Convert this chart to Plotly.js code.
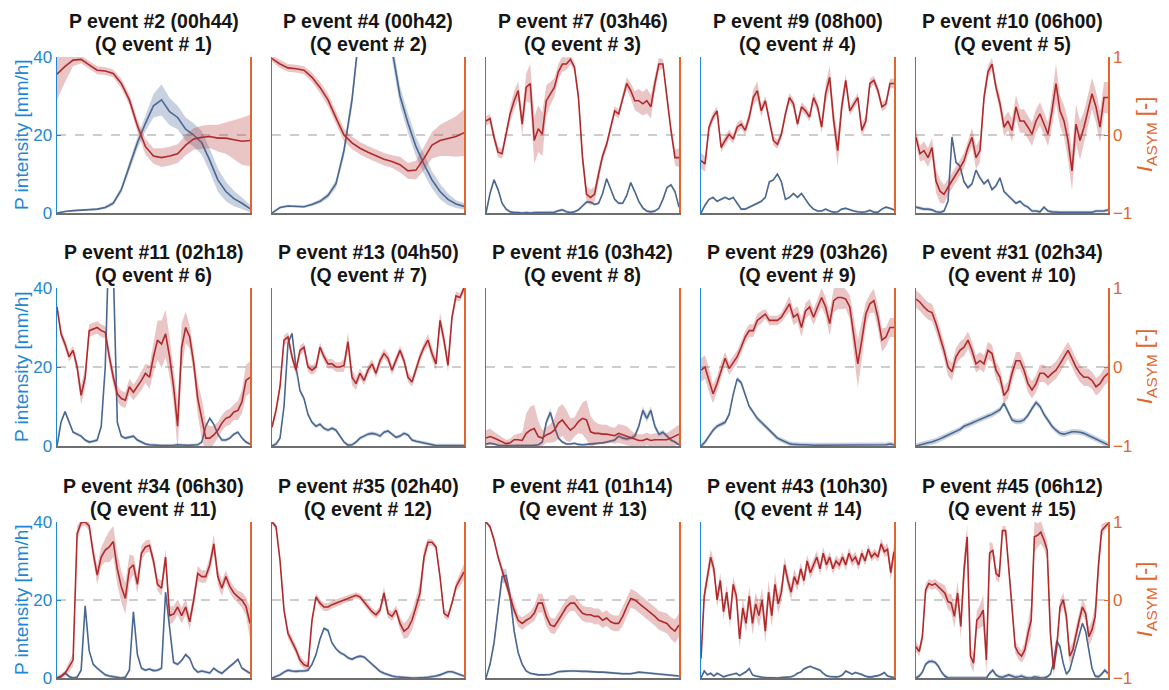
<!DOCTYPE html>
<html>
<head>
<meta charset="utf-8">
<script src="https://cdn.plot.ly/plotly-3.0.1.min.js"></script>
<style>
  html, body { margin: 0; padding: 0; background: #fff; }
  #chart { width: 1169px; height: 690px; }
</style>
</head>
<body>
<div id="chart"></div>
<script>
// ---- event labels ----
const pEventLabels = ['P event #2 (00h44)', 'P event #4 (00h42)', 'P event #7 (03h46)', 'P event #9 (08h00)', 'P event #10 (06h00)',
  'P event #11 (02h18)', 'P event #13 (04h50)', 'P event #16 (03h42)', 'P event #29 (03h26)', 'P event #31 (02h34)',
  'P event #34 (06h30)', 'P event #35 (02h40)', 'P event #41 (01h14)', 'P event #43 (10h30)', 'P event #45 (06h12)'];
const qEventLabels = ['(Q event # 1)', '(Q event # 2)', '(Q event # 3)', '(Q event # 4)', '(Q event # 5)',
  '(Q event # 6)', '(Q event # 7)', '(Q event # 8)', '(Q event # 9)', '(Q event # 10)',
  '(Q event # 11)', '(Q event # 12)', '(Q event # 13)', '(Q event # 14)', '(Q event # 15)'];

// ---- P intensity [mm/h] (mean and spread) and I_ASYM [-] (mean and spread), over normalised event time ----
const rain02 = [0,0.4,0.6,0.7,0.8,1.0,1.4,2.5,6,12,18,23,27.5,29,26,24.5,21.5,20,18,13.5,8.5,5.5,3.7,2.5,1.1];
const rain02Sd = [0.2,0.2,0.2,0.2,0.2,0.3,0.4,0.6,0.8,1.2,1.5,2,3,4,3.5,3,3,3,3,3,3,2.5,2,1.5,1];
const asym02 = [0.78,0.88,0.96,0.97,0.90,0.83,0.82,0.79,0.66,0.45,0.12,-0.15,-0.27,-0.29,-0.27,-0.24,-0.13,-0.05,-0.03,-0.02,-0.04,-0.04,-0.06,-0.08,-0.07];
const asym02Sd = [0.33,0.2,0.08,0.05,0.05,0.05,0.05,0.05,0.06,0.07,0.08,0.1,0.1,0.12,0.12,0.12,0.13,0.14,0.15,0.15,0.17,0.2,0.25,0.3,0.33];

const rain04 = [0,1.4,1.8,1.7,1.6,2.2,3,4.5,7.5,16,29,48,70,75,60,42,30,23,17,12.5,8.5,5.5,3.5,2.3,1.7];
const rain04Sd = [0.2,0.3,0.3,0.3,0.3,0.4,0.5,0.7,1,1.5,2,2,2,2,2,2.5,2.5,2.5,2.5,2.5,2.2,2,1.5,1,0.8];
const asym04 = [0.98,0.91,0.86,0.85,0.83,0.74,0.61,0.45,0.22,0.0,-0.1,-0.17,-0.22,-0.27,-0.31,-0.34,-0.38,-0.46,-0.45,-0.3,-0.13,-0.07,-0.04,-0.02,0.03];
const asym04Sd = [0.04,0.05,0.05,0.05,0.05,0.06,0.07,0.08,0.08,0.08,0.08,0.08,0.08,0.08,0.08,0.08,0.1,0.1,0.12,0.15,0.17,0.2,0.23,0.26,0.3];

const rain07 = [0,5,8.5,6,2.5,1,0.3,0.1,0.1,0, 0.1,0,0.1,0.1,0.2,0.1,0.1,0.2,0.6,0.8, 0.3,0.1,0.3,0.8,1.8,2.8,2.8,2.2,2.5,5, 8.8,6,3.5,2.5,2.5,4.5,7.8,5.5,3,1.3, 0.5,0.3,0.5,1.2,3.5,6.5,7.2,5.5,1.5];
const rain07Sd = 0.35;
const asym07 = [0.18,0.21,-0.03,-0.22,-0.24,0.01,0.27,0.44,0.57,0.14, 0.61,0.66,-0.07,0.08,0.01,0.44,0.53,0.61,0.81,0.91, 0.91,0.97,0.87,0.48,-0.29,-0.76,-0.80,-0.76,-0.50,-0.27, -0.12,0.10,0.31,0.27,0.48,0.66,0.57,0.44,0.44,0.40, 0.44,0.36,0.66,0.91,0.91,0.48,0.06,-0.29,-0.29];
const asym07Sd = [0.06,0.06,0.07,0.07,0.06,0.06,0.1,0.12,0.12,0.15, 0.18,0.25,0.3,0.3,0.28,0.2,0.15,0.12,0.1,0.1, 0.08,0.06,0.06,0.08,0.1,0.1,0.1,0.1,0.08,0.06, 0.06,0.06,0.06,0.06,0.06,0.08,0.1,0.12,0.15,0.15, 0.16,0.15,0.1,0.08,0.06,0.06,0.07,0.1,0.12];

const rain09 = [0,2,3.5,4,3,3.5,4,3.5,4,2.5, 1,1,1.5,2,2.5,3,4,8,8.5,10, 8,3.5,4,5,4,5,3.5,2,1,0.5, 0.5,1,0.5,0.2,0.3,1,1.2,0.8,0.5,0.3, 0.2,0.3,0.7,0.2,0.2,1,1.5,1.2,0.8];
const rain09Sd = 0.3;
const asym09 = [-0.33,-0.37,0.10,0.23,0.31,-0.16,-0.07,0.01,-0.05,0.10, 0.14,0.06,0.23,0.48,0.57,0.31,0.44,0.18,-0.07,-0.12, 0.01,0.27,0.48,0.40,0.14,0.36,0.31,0.23,0.48,0.36, 0.10,0.53,0.74,0.18,-0.20,0.36,0.70,0.31,0.40,0.48, 0.06,0.18,0.66,0.70,0.57,0.36,0.40,0.66,0.66];
const asym09Sd = [0.1,0.1,0.06,0.06,0.06,0.06,0.06,0.06,0.06,0.06, 0.06,0.06,0.07,0.1,0.12,0.08,0.06,0.06,0.06,0.06, 0.06,0.06,0.06,0.06,0.06,0.06,0.06,0.06,0.07,0.07, 0.08,0.12,0.15,0.15,0.2,0.12,0.08,0.06,0.06,0.06, 0.08,0.08,0.06,0.06,0.06,0.06,0.06,0.06,0.06];

const rain10 = [1.5,1.2,1,1,0.8,0.3,0.2,0.5,3,19.5, 13,12,8,6.5,7.5,11,9,7.5,8.5,6, 7,9,5.5,4.5,3.5,2.5,3,2,1.5,0.5, 0.5,0.3,1.5,0.5,0.3,0.2,0.2,0.2,0.2,0.3, 0.2,0.2,0.2,0.2,0.2,0.5,0.5,0.5,0.8];
const rain10Sd = 0.4;
const asym10 = [-0.03,-0.24,-0.20,-0.29,-0.16,-0.59,-0.72,-0.76,-0.67,-0.59, -0.50,-0.42,-0.33,-0.16,-0.03,-0.29,-0.20,0.48,0.81,0.91, 0.61,0.40,0.10,0.18,0.06,0.36,0.18,0.18,0.10,0.01, 0.18,0.27,0.14,0.01,0.31,0.66,0.31,0.18,-0.07,-0.46, 0.14,-0.07,0.10,0.31,0.53,0.36,0.10,0.48,0.48];
const asym10Sd = [0.1,0.1,0.12,0.12,0.12,0.15,0.15,0.12,0.1,0.1, 0.1,0.1,0.1,0.1,0.12,0.15,0.15,0.1,0.08,0.08, 0.08,0.1,0.12,0.12,0.15,0.15,0.15,0.15,0.15,0.15, 0.15,0.15,0.15,0.15,0.2,0.25,0.2,0.2,0.25,0.25, 0.25,0.25,0.2,0.2,0.2,0.2,0.2,0.2,0.2];

const rain11 = [0,6,8.7,6,3.5,3,2.5,1.5,1,1.2, 1.5,5,20,55,45,6,2.5,2,2.3,2.5, 1.5,1,0.5,0.3,0.2,0.1,0.1,0.1,0.1,0.2, 0.3,0.2,0.2,0.2,0.3,0.3,1,5,7,5.5, 3,1.5,1.5,2,3,3.5,2,1,0.5];
const rain11Sd = 0.4;
const asym11 = [0.76,0.42,0.29,0.13,0.21,0,-0.36,-0.13,0.46,0.48, 0.50,0.46,0.44,0.13,-0.13,-0.34,-0.40,-0.42,-0.25,-0.32, -0.25,-0.17,-0.08,-0.13,0.13,0.34,0.29,0.42,0.13,-0.25, -0.75,0.25,0.50,0.38,0.05,-0.40,-0.65,-0.90,-0.90,-0.86, -0.80,-0.71,-0.65,-0.63,-0.57,-0.55,-0.44,-0.17,-0.13];
const asym11Sd = [0.06,0.06,0.06,0.06,0.06,0.08,0.12,0.12,0.08,0.08, 0.08,0.08,0.08,0.1,0.1,0.1,0.1,0.1,0.1,0.1, 0.1,0.12,0.12,0.15,0.2,0.25,0.3,0.3,0.25,0.2, 0.3,0.3,0.2,0.15,0.15,0.2,0.25,0.2,0.15,0.12, 0.1,0.1,0.1,0.1,0.1,0.12,0.15,0.2,0.2];

const rain13 = [0,0.5,2,10,26,28.5,20,14,12,8, 6,5,5.5,4.5,4,4.5,4,2.5,1,0.2, 0.3,1,2,2.5,3,3.2,3,2.5,3.5,3.8, 3,2.2,2.5,3.2,2.8,1.5,1.2,1,0.7,0.5, 0.3,0.1,0.1,0.1,0.1,0.1,0.1,0.1,0.1];
const rain13Sd = 0.45;
const asym13 = [-0.76,-0.55,-0.25,0.34,0.38,0.13,-0.04,0.21,0.25,0, -0.04,0,0.25,0.13,0.04,0.04,0,0,0.02,0.32, -0.13,-0.21,-0.08,-0.17,-0.04,0.04,-0.08,0.08,0.17,0.11, -0.04,0.08,0.21,0.08,-0.13,-0.19,-0.04,0.13,0.25,0.34, 0.17,0.04,0.59,0.34,0.02,0.63,0.90,0.88,1.0];
const asym13Sd = [0.05,0.06,0.06,0.06,0.06,0.06,0.06,0.06,0.06,0.06, 0.06,0.06,0.06,0.06,0.06,0.06,0.06,0.06,0.08,0.12, 0.1,0.08,0.06,0.06,0.06,0.06,0.06,0.06,0.06,0.06, 0.06,0.06,0.06,0.06,0.06,0.06,0.06,0.06,0.06,0.08, 0.08,0.08,0.1,0.1,0.08,0.06,0.06,0.05,0.05];

const rain16 = [0.5,0.7,0.5,0.2,0.1,0.1,0.1,0.1,0.1,0.2, 0.2,0.2,0.2,0.3,1,6,8.5,5,2,1, 0.5,0.5,0.7,0.4,0.3,0.4,0.5,0.6,0.6,0.8, 1,1.2,1.5,2.5,2,1.8,2,2.5,5,9, 7,9,5,3,3.5,2.5,1.5,1,0.3];
const rain16Sd = [0.3,0.3,0.3,0.3,0.3,0.3,0.3,0.3,0.3,0.3, 0.3,0.3,0.3,0.3,0.4,0.8,1,0.8,0.4,0.3, 0.3,0.3,0.3,0.3,0.3,0.3,0.3,0.3,0.3,0.3, 0.3,0.3,0.4,0.5,0.5,0.5,0.5,0.6,0.8,1, 1,1,0.8,0.6,0.6,0.5,0.4,0.3,0.3];
const asym16 = [-0.90,-0.88,-0.90,-0.92,-0.95,-0.97,-0.96,-0.92,-0.92,-0.93, -0.84,-0.80,-0.78,-0.88,-0.90,-0.86,-0.84,-0.80,-0.71,-0.67, -0.74,-0.80,-0.76,-0.69,-0.65,-0.67,-0.82,-0.84,-0.84,-0.85, -0.85,-0.86,-0.87,-0.84,-0.86,-0.87,-0.90,-0.92,-0.93,-0.93, -0.91,-0.93,-0.92,-0.92,-0.92,-0.92,-0.90,-0.88,-0.85];
const asym16Sd = [0.1,0.1,0.08,0.06,0.06,0.05,0.05,0.06,0.08,0.1, 0.25,0.3,0.3,0.2,0.1,0.1,0.12,0.15,0.2,0.2, 0.2,0.15,0.12,0.15,0.2,0.25,0.2,0.15,0.12,0.12, 0.12,0.1,0.1,0.12,0.12,0.12,0.1,0.08,0.08,0.08, 0.08,0.08,0.08,0.08,0.08,0.08,0.1,0.12,0.12];

const rain29 = [0,1,2.5,4,5,5.5,6,8,13,17, 16,13,10,8.5,7,6,5,4,3,2, 1.5,1,0.6,0.4,0.3,0.3,0.3,0.2,0.2,0.2, 0.2,0.2,0.2,0.2,0.2,0.2,0.2,0.2,0.2,0.2, 0.2,0.2,0.2,0.2,0.2,0.2,0.3,0.5,0.3];
const rain29Sd = 0.6;
const asym29 = [-0.04,0,-0.17,-0.34,-0.21,-0.04,0.11,-0.02,0.06,0.13, 0.25,0.38,0.46,0.46,0.59,0.63,0.67,0.59,0.59,0.59, 0.63,0.71,0.80,0.63,0.67,0.50,0.71,0.76,0.63,0.76, 0.88,0.76,0.55,0.84,0.88,0.88,0.86,0.76,0.38,0.04, 0.34,0.67,0.80,0.84,0.63,0.34,0.38,0.50,0.50];
const asym29Sd = [0.15,0.15,0.15,0.12,0.1,0.1,0.08,0.08,0.08,0.08, 0.08,0.08,0.08,0.08,0.08,0.08,0.06,0.06,0.06,0.06, 0.06,0.08,0.1,0.1,0.1,0.12,0.1,0.1,0.1,0.1, 0.12,0.12,0.15,0.15,0.15,0.15,0.12,0.15,0.25,0.3, 0.25,0.15,0.12,0.15,0.15,0.15,0.12,0.12,0.12];

const rain31 = [0,0.3,0.6,0.8,1,1.3,1.8,2.3,2.8,3.2, 3.6,4.2,5,5.3,5.8,6.3,6.8,7.2,7.6,8, 8.6,9.2,10.8,8.5,6.6,6.2,6.2,6.6,7.8,9.5, 11,10,8,6.5,5,4,3.2,3,3.3,3.6, 3.6,3.5,3.2,2.7,2.2,1.7,1.2,0.6,0.3];
const rain31Sd = 0.7;
const asym31 = [0.86,0.82,0.76,0.71,0.69,0.55,0.38,0.21,0,-0.06, 0.13,0.21,0.25,0.34,0.21,0.04,0.08,0.04,0.21,0.17, -0.04,-0.13,-0.36,-0.29,-0.08,0.08,0.08,-0.04,-0.21,-0.29, -0.21,-0.08,-0.08,-0.13,-0.08,-0.04,0.04,0.13,0.21,0.11, 0,-0.08,-0.13,-0.13,-0.17,-0.25,-0.21,-0.13,-0.08];
const asym31Sd = 0.11;

const rain34 = [0,0.4,1.3,0.4,0,0.2,2,18.5,7,3.5, 2.5,1.7,0.8,0.5,0.3,0.1,0,0.2,2,17, 6,2.5,2,2.3,1.9,2,2.5,22,13,4, 3.5,4.5,6,5,2.5,1.5,1.8,1.6,1.3,2.5, 1.7,1.2,2.2,3,3.8,4.8,2.5,1.8,1.2];
const rain34Sd = 0.4;
const asym34 = [-1,-0.98,-0.94,-0.86,-0.77,0.85,0.99,1,0.95,0.6, 0.32,0.55,0.64,0.68,0.75,0.4,0.17,0.02,0.4,0.45, 0.2,0.6,0.68,0.7,0.5,0.2,0.15,0.55,-0.2,-0.18, -0.09,-0.2,-0.09,-0.28,0.0,0.34,0.3,0.3,0.45,0.72, 0.3,0.15,0.3,0.17,0.09,0.04,0.0,-0.08,-0.3];
const asym34Sd = [0.03,0.03,0.04,0.06,0.08,0.1,0.05,0.05,0.06,0.1, 0.12,0.12,0.15,0.2,0.2,0.2,0.2,0.2,0.18,0.12, 0.12,0.1,0.08,0.08,0.08,0.08,0.1,0.1,0.12,0.1, 0.1,0.1,0.1,0.1,0.1,0.1,0.08,0.08,0.1,0.12, 0.1,0.1,0.08,0.08,0.08,0.08,0.1,0.12,0.2];

const rain35 = [0,0.3,0.8,1.5,2,1.8,1.7,1.8,1.8,2, 3.5,6,10,12.7,12.2,9,7.5,6.5,6,5.2, 4.8,5.3,5.6,5.4,4.5,3.5,2.5,1.7,1.2,0.8, 0.5,0.3,0.2,0.1,0,0,0,0,0.1,0.2, 0.3,0.5,0.8,1.2,1.6,1.6,1.2,0.8,0.5];
const rain35Sd = 0.4;
const asym35 = [1,0.94,0.51,-0.13,-0.43,-0.53,-0.64,-0.77,-0.83,-0.85, -0.26,0.04,-0.04,-0.09,-0.09,-0.06,-0.04,-0.02,0,0.02, 0.04,0.06,0.04,-0.02,-0.09,-0.15,-0.19,-0.13,0.09,-0.17, -0.21,-0.13,-0.3,-0.40,-0.36,-0.26,-0.09,0.09,0.55,0.74, 0.74,0.68,0.30,-0.17,-0.21,-0.04,0.17,0.26,0.36];
const asym35Sd = [0.03,0.04,0.05,0.06,0.06,0.06,0.06,0.06,0.05,0.05, 0.05,0.05,0.05,0.05,0.05,0.05,0.05,0.04,0.04,0.04, 0.04,0.04,0.04,0.05,0.05,0.05,0.05,0.05,0.08,0.06, 0.06,0.06,0.08,0.1,0.12,0.12,0.12,0.15,0.1,0.05, 0.04,0.04,0.05,0.05,0.05,0.05,0.06,0.08,0.1];

const rain41 = [0,3.5,9,18,26,26.3,21,12,6.5,3.5, 1.8,1.2,0.9,0.8,0.8,0.8,0.9,1.2,1.6,1.7, 1.8,1.8,1.8,1.7,1.7,1.7,1.6,1.6,1.5,1.5, 1.4,1.4,1.3,1.2,1.1,1.1,1.1,1.3,1.5,1.4, 1.3,1.2,1.1,1.0,1.0,0.9,0.8,0.6,0.5];
const rain41Sd = [0.2,0.5,1,1.5,1.8,1.8,1.5,1,0.6,0.4, 0.3,0.3,0.3,0.3,0.3,0.3,0.3,0.3,0.3,0.3, 0.3,0.3,0.3,0.3,0.3,0.3,0.3,0.3,0.3,0.3, 0.3,0.3,0.3,0.3,0.3,0.3,0.3,0.3,0.3,0.3, 0.3,0.3,0.3,0.3,0.3,0.3,0.3,0.3,0.3];
const asym41 = [1,0.94,0.77,0.55,0.38,0.21,0.04,-0.13,-0.26,-0.30, -0.26,-0.23,-0.17,-0.04,-0.04,-0.21,-0.32,-0.34,-0.26,-0.17, -0.09,-0.04,-0.04,-0.11,-0.17,-0.19,-0.19,-0.21,-0.21,-0.26, -0.23,-0.28,-0.30,-0.30,-0.21,-0.09,0.02,0,-0.04,-0.09, -0.13,-0.17,-0.21,-0.26,-0.28,-0.30,-0.36,-0.40,-0.32];
const asym41Sd = [0.02,0.03,0.04,0.05,0.06,0.07,0.08,0.08,0.08,0.08, 0.08,0.08,0.1,0.12,0.12,0.12,0.1,0.1,0.1,0.1, 0.1,0.1,0.1,0.1,0.1,0.1,0.1,0.1,0.1,0.1, 0.1,0.1,0.1,0.1,0.12,0.12,0.12,0.12,0.12,0.12, 0.12,0.12,0.12,0.12,0.12,0.13,0.14,0.15,0.15];

const rain43 = [0,1.8,0.8,1.2,0.5,1.2,0.8,0.3,0.6,0.8, 0.9,1.2,0.6,1,1.6,2.4,0.8,0.5,0.3,0.2, 0.1,0.05,0,0,0,0.1,0.2,0.3,0.3,0.6, 1.2,1.5,2.3,2.7,3,2.6,2.3,2,1.2,0.6, 0.4,0.3,0.3,0.4,0.8,1.8,1.4,1.0,1.4,1.2, 0.9,0.5,0.3,0.3,0.4,0.6,0.9,1.4,0.5,0.3, 0.1];
const rain43Sd = 0.3;
const asym43 = [-0.75,0.05,0.30,0.55,0.40,0.0,0.25,-0.15,0.10,-0.25, 0.20,0.05,-0.50,-0.10,-0.30,0.05,-0.30,-0.05,-0.20,0.0, -0.40,0.10,-0.20,0.20,-0.05,0.10,0.45,0.25,0.10,0.30, 0.20,0.40,0.25,0.50,0.35,0.45,0.55,0.40,0.60,0.45, 0.55,0.40,0.50,0.45,0.55,0.45,0.60,0.50,0.55,0.45, 0.60,0.50,0.65,0.55,0.60,0.55,0.72,0.62,0.65,0.35, 0.62];
const asym43Sd = [0.1,0.1,0.1,0.1,0.1,0.1,0.1,0.1,0.1,0.1, 0.1,0.1,0.12,0.12,0.12,0.12,0.15,0.15,0.15,0.15, 0.15,0.15,0.15,0.15,0.12,0.12,0.1,0.1,0.1,0.1, 0.08,0.08,0.08,0.08,0.08,0.08,0.08,0.08,0.08,0.08, 0.07,0.07,0.07,0.07,0.07,0.07,0.07,0.07,0.07,0.07, 0.06,0.06,0.06,0.06,0.06,0.06,0.07,0.07,0.08,0.1, 0.1];

const rain45 = [0,0.5,1.5,3.5,4.2,4.3,4,3,1.5,0.5, 0,0,0,0,0,0,0,0,0,0, 0,0,0,1.2,2,0.8,0.3,0.2,0.5,0.8, 0.5,0.2,0.3,0.5,0.2,0,0,0.3,0.2,0, 0,0.3,1,4,9.5,8,3.8,1,2,5, 8.5,11.5,14,12,7,2.5,0.5,0.3,1,2, 1.2];
const rain45Sd = 0.5;
const asym45 = [-0.60,-0.66,-0.47,0.13,0.21,0.19,0.21,0.17,0.13,0.09, -0.02,-0.04,-0.21,0.09,-0.34,0.38,0.81,-0.72,-0.81,-0.26, -0.21,-0.13,-0.77,0.60,0.64,0.34,0.30,0.89,0.89,0.43, -0.09,-0.60,-0.68,-0.72,-0.64,-0.43,-0.26,0.81,0.83,0.87, 0.77,0.64,-0.43,-0.89,-0.60,-0.09,0,-0.21,-0.72,-0.64, -0.43,-0.26,-0.09,-0.17,-0.47,-0.38,-0.21,0.43,0.89,0.94, 0.98];
const asym45Sd = [0.06,0.06,0.08,0.08,0.06,0.06,0.06,0.06,0.08,0.1, 0.1,0.12,0.15,0.15,0.15,0.2,0.15,0.12,0.12,0.12, 0.15,0.2,0.2,0.15,0.08,0.08,0.08,0.06,0.06,0.08, 0.08,0.08,0.08,0.08,0.1,0.15,0.2,0.2,0.15,0.15, 0.12,0.12,0.12,0.08,0.08,0.08,0.1,0.1,0.1,0.1, 0.1,0.1,0.1,0.1,0.12,0.12,0.15,0.15,0.08,0.05,0.04];

// one entry per panel, in reading order (5 columns x 3 rows)
const panels = [
  [rain02, rain02Sd, asym02, asym02Sd], [rain04, rain04Sd, asym04, asym04Sd], [rain07, rain07Sd, asym07, asym07Sd],
  [rain09, rain09Sd, asym09, asym09Sd], [rain10, rain10Sd, asym10, asym10Sd],
  [rain11, rain11Sd, asym11, asym11Sd], [rain13, rain13Sd, asym13, asym13Sd], [rain16, rain16Sd, asym16, asym16Sd],
  [rain29, rain29Sd, asym29, asym29Sd], [rain31, rain31Sd, asym31, asym31Sd],
  [rain34, rain34Sd, asym34, asym34Sd], [rain35, rain35Sd, asym35, asym35Sd], [rain41, rain41Sd, asym41, asym41Sd],
  [rain43, rain43Sd, asym43, asym43Sd], [rain45, rain45Sd, asym45, asym45Sd]
];

// ---- styling ----
const W = 1169, H = 690;
const colLeft = [57, 272, 486, 701, 916];
const colRight = [250, 464, 679, 894, 1108];
const rowTop = [57, 288, 522];
const rowBottom = [213, 446, 678];

const FONT = 'Liberation Sans, Arial, Helvetica, sans-serif';
const AXIS_BLUE = '#2287d2';
const AXIS_ORANGE = '#e2652c';
const RAIN_LINE = '#4a6791';
const RAIN_BAND = 'rgba(84,112,158,0.32)';
const ASYM_LINE = '#b02a2c';
const ASYM_BAND = 'rgba(186,62,64,0.30)';

const band = (v, s, sign) => v.map((y, i) => y + sign * (Array.isArray(s) ? s[i] : s));
const timeAxis = v => v.map((_, i) => i / (v.length - 1));

const traces = [];
const layout = {
  width: W, height: H,
  margin: {l: 0, r: 0, t: 0, b: 0},
  paper_bgcolor: '#fff', plot_bgcolor: 'rgba(0,0,0,0)',
  showlegend: false,
  font: {family: FONT},
  shapes: [], annotations: []
};

panels.forEach(([rain, rainSd, asym, asymSd], k) => {
  const r = Math.floor(k / 5), c = k % 5;
  const xa = 'x' + (k + 1), yl = 'y' + (2 * k + 1), yr = 'y' + (2 * k + 2);
  const xDom = [colLeft[c] / W, colRight[c] / W];
  const yDom = [1 - rowBottom[r] / H, 1 - rowTop[r] / H];

  layout['xaxis' + (k + 1)] = {
    domain: xDom, range: [0, 1], anchor: yl,
    showline: true, linecolor: '#6e6e6e', linewidth: 2,
    showgrid: false, zeroline: false, ticks: '', showticklabels: false, fixedrange: true
  };
  layout['yaxis' + (2 * k + 1)] = {
    domain: yDom, range: [0, 40], anchor: xa,
    showline: true, linecolor: AXIS_BLUE, linewidth: 1.5,
    showgrid: false, zeroline: false,
    tickmode: 'array', tickvals: [0, 20, 40],
    ticks: c === 0 ? 'inside' : '', ticklen: 4, tickwidth: 1, tickcolor: AXIS_BLUE,
    showticklabels: c === 0, tickfont: {family: FONT, size: 17, color: AXIS_BLUE}, fixedrange: true
  };
  layout['yaxis' + (2 * k + 2)] = {
    domain: yDom, range: [-1, 1], anchor: xa, overlaying: yl, side: 'right',
    showline: true, linecolor: AXIS_ORANGE, linewidth: 1.5,
    showgrid: false, zeroline: false,
    tickmode: 'array', tickvals: [-1, 0, 1],
    ticks: c === 4 ? 'inside' : '', ticklen: 4, tickwidth: 1, tickcolor: AXIS_ORANGE,
    showticklabels: c === 4, tickfont: {family: FONT, size: 17, color: AXIS_ORANGE}, fixedrange: true
  };

  // dashed reference line at I_ASYM = 0 (20 mm/h on the left scale)
  layout.shapes.push({
    type: 'line', layer: 'below', xref: xa + ' domain', x0: 0, x1: 1, yref: yl, y0: 20, y1: 20,
    line: {color: '#bdbdbd', width: 1.5, dash: 'dash'}
  });

  const tr = timeAxis(rain), ta = timeAxis(asym);
  const common = {type: 'scatter', mode: 'lines', hoverinfo: 'skip', showlegend: false, xaxis: xa};
  traces.push(Object.assign({}, common, {x: tr, y: band(rain, rainSd, -1), yaxis: yl, line: {width: 0}}));
  traces.push(Object.assign({}, common, {x: tr, y: band(rain, rainSd, 1), yaxis: yl, line: {width: 0}, fill: 'tonexty', fillcolor: RAIN_BAND}));
  traces.push(Object.assign({}, common, {x: tr, y: rain, yaxis: yl, line: {color: RAIN_LINE, width: 1.6}}));
  traces.push(Object.assign({}, common, {x: ta, y: band(asym, asymSd, -1), yaxis: yr, line: {width: 0}}));
  traces.push(Object.assign({}, common, {x: ta, y: band(asym, asymSd, 1), yaxis: yr, line: {width: 0}, fill: 'tonexty', fillcolor: ASYM_BAND}));
  traces.push(Object.assign({}, common, {x: ta, y: asym, yaxis: yr, line: {color: ASYM_LINE, width: 1.6}}));

  // two-line panel title
  const xc = (colLeft[c] + colRight[c]) / 2 / W;
  layout.annotations.push({
    xref: 'paper', yref: 'paper', x: xc, y: 1 - (rowTop[r] - 36) / H, xanchor: 'center', yanchor: 'middle',
    text: '<b>' + pEventLabels[k] + '</b>', showarrow: false, font: {family: FONT, size: 19.5, color: '#151515'}
  });
  layout.annotations.push({
    xref: 'paper', yref: 'paper', x: xc, y: 1 - (rowTop[r] - 13) / H, xanchor: 'center', yanchor: 'middle',
    text: '<b>' + qEventLabels[k] + '</b>', showarrow: false, font: {family: FONT, size: 19.5, color: '#151515'}
  });

  // axis titles on the outer columns
  const yc = 1 - (rowTop[r] + rowBottom[r]) / 2 / H;
  if (c === 0) {
    layout.annotations.push({
      xref: 'paper', yref: 'paper', x: 21 / W, y: yc, xanchor: 'center', yanchor: 'middle', textangle: -90,
      text: 'P intensity [mm/h]', showarrow: false, font: {family: FONT, size: 19, color: AXIS_BLUE}
    });
  }
  if (c === 4) {
    layout.annotations.push({
      xref: 'paper', yref: 'paper', x: 1146 / W, y: yc, xanchor: 'center', yanchor: 'middle', textangle: -90,
      text: '<i>I</i><sub>ASYM</sub> [-]', showarrow: false, font: {family: FONT, size: 22, color: AXIS_ORANGE}
    });
  }
});

Plotly.newPlot('chart', traces, layout, {displayModeBar: false, staticPlot: true});
</script>
</body>
</html>
